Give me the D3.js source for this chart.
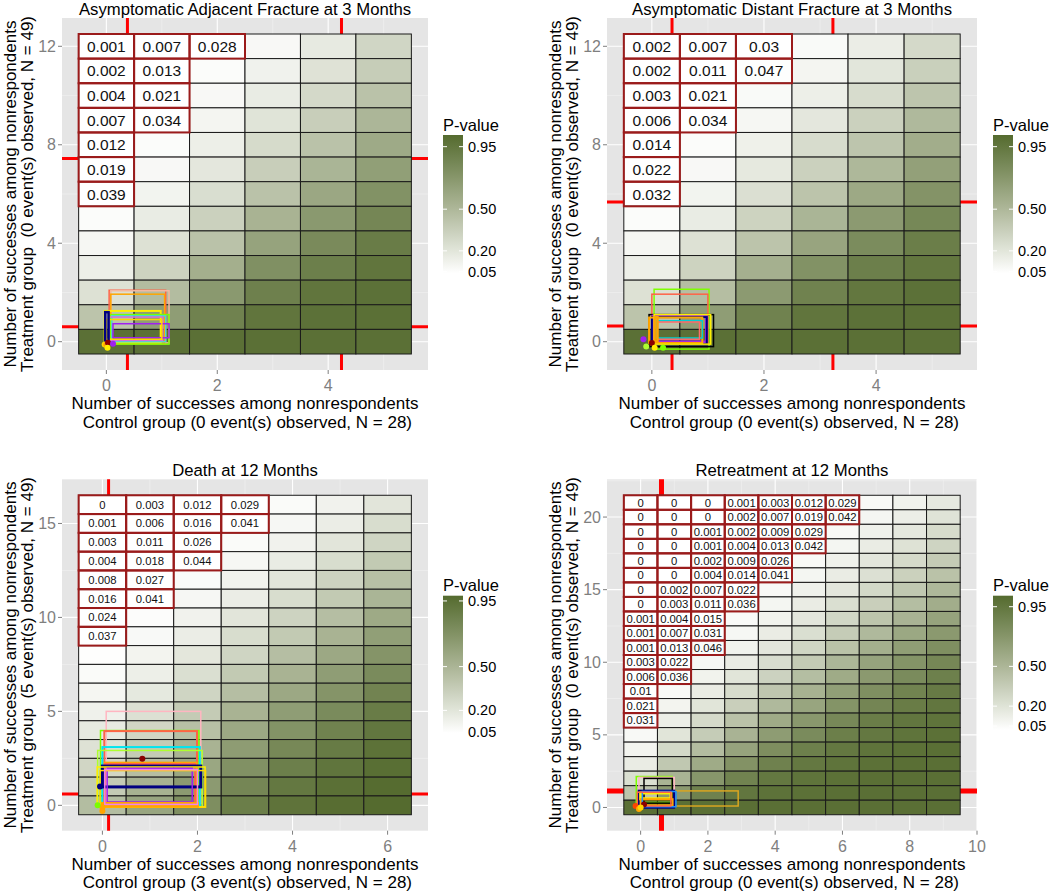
<!DOCTYPE html>
<html><head><meta charset="utf-8">
<script src="https://cdn.jsdelivr.net/npm/d3@7"></script>
<style>body{margin:0;background:#fff}svg{display:block;font-family:"Liberation Sans",Arial,Helvetica,sans-serif}text{white-space:pre}</style>
</head><body><svg id="c" width="1050" height="893"></svg>
<script>
// ---------------- DATA ----------------
const titles = ["Asymptomatic Adjacent Fracture at 3 Months", "Asymptomatic Distant Fracture at 3 Months", "Death at 12 Months", "Retreatment at 12 Months"];
const xTitleLine1 = "Number of successes among nonrespondents";
const xTitleLine2 = [" Control group (0 event(s) observed, N = 28)", " Control group (0 event(s) observed, N = 28)", " Control group (3 event(s) observed, N = 28)", " Control group (0 event(s) observed, N = 28)"];
const yTitleLine1 = "Number of successes among nonrespondents";
const yTitleLine2 = ["Treatment group  (0 event(s) observed, N = 49)", "Treatment group  (0 event(s) observed, N = 49)", "Treatment group  (5 event(s) observed, N = 49)", "Treatment group  (0 event(s) observed, N = 49)"];
const legendTitle = "P-value";
const legendBreaks = [0.05, 0.20, 0.50, 0.95];
const legendLabels = ["0.05", "0.20", "0.50", "0.95"];

// p-value matrices, first row = top row (largest treatment count)
const p1Values = [
  [0.001, 0.007, 0.028, 0.08, 0.17, 0.30],
  [0.002, 0.013, 0.06, 0.12, 0.22, 0.36],
  [0.004, 0.021, 0.08, 0.16, 0.28, 0.43],
  [0.007, 0.034, 0.10, 0.21, 0.35, 0.51],
  [0.012, 0.06, 0.14, 0.27, 0.43, 0.59],
  [0.019, 0.08, 0.19, 0.35, 0.52, 0.67],
  [0.039, 0.11, 0.25, 0.43, 0.61, 0.76],
  [0.06, 0.16, 0.33, 0.53, 0.71, 0.84],
  [0.09, 0.23, 0.43, 0.64, 0.81, 0.91],
  [0.14, 0.32, 0.56, 0.77, 0.89, 0.96],
  [0.23, 0.47, 0.71, 0.88, 0.96, 0.99],
  [0.42, 0.68, 0.87, 0.96, 0.99, 1.0],
  [1, 1, 1, 1, 1, 1]
];
const p2Values = [
  [0.002, 0.007, 0.03, 0.07, 0.15, 0.28],
  [0.002, 0.011, 0.047, 0.10, 0.20, 0.34],
  [0.003, 0.021, 0.07, 0.14, 0.26, 0.41],
  [0.006, 0.034, 0.09, 0.19, 0.33, 0.49],
  [0.014, 0.06, 0.13, 0.26, 0.41, 0.57],
  [0.022, 0.08, 0.18, 0.33, 0.50, 0.66],
  [0.032, 0.11, 0.24, 0.42, 0.60, 0.75],
  [0.06, 0.16, 0.32, 0.52, 0.70, 0.83],
  [0.09, 0.23, 0.42, 0.63, 0.80, 0.90],
  [0.14, 0.32, 0.55, 0.76, 0.89, 0.95],
  [0.23, 0.46, 0.70, 0.87, 0.95, 0.99],
  [0.42, 0.68, 0.87, 0.96, 0.99, 1.0],
  [1, 1, 1, 1, 1, 1]
];
const p3Values = [
  [0, 0.003, 0.012, 0.029, 0.07, 0.12, 0.20],
  [0.001, 0.006, 0.016, 0.041, 0.09, 0.15, 0.25],
  [0.003, 0.011, 0.026, 0.07, 0.12, 0.20, 0.30],
  [0.004, 0.018, 0.044, 0.09, 0.16, 0.25, 0.37],
  [0.008, 0.027, 0.07, 0.12, 0.20, 0.31, 0.43],
  [0.016, 0.041, 0.09, 0.15, 0.25, 0.37, 0.50],
  [0.024, 0.06, 0.12, 0.20, 0.31, 0.44, 0.57],
  [0.037, 0.08, 0.15, 0.25, 0.37, 0.51, 0.64],
  [0.052, 0.11, 0.19, 0.30, 0.44, 0.58, 0.71],
  [0.07, 0.14, 0.24, 0.37, 0.51, 0.65, 0.77],
  [0.10, 0.18, 0.30, 0.44, 0.58, 0.71, 0.82],
  [0.13, 0.23, 0.36, 0.51, 0.65, 0.77, 0.87],
  [0.17, 0.29, 0.43, 0.58, 0.72, 0.83, 0.91],
  [0.22, 0.36, 0.51, 0.66, 0.79, 0.88, 0.94],
  [0.29, 0.44, 0.59, 0.73, 0.85, 0.92, 0.96],
  [0.36, 0.52, 0.67, 0.80, 0.90, 0.95, 0.98],
  [0.45, 0.60, 0.75, 0.86, 0.93, 0.97, 0.99]
];
const p4Values = [
  [0, 0, 0, 0.001, 0.003, 0.012, 0.029, 0.06, 0.10, 0.16],
  [0, 0, 0, 0.002, 0.007, 0.019, 0.042, 0.08, 0.13, 0.20],
  [0, 0, 0.001, 0.002, 0.009, 0.029, 0.06, 0.11, 0.17, 0.25],
  [0, 0, 0.001, 0.004, 0.013, 0.042, 0.08, 0.14, 0.21, 0.30],
  [0, 0, 0.002, 0.009, 0.026, 0.06, 0.11, 0.18, 0.26, 0.36],
  [0, 0, 0.004, 0.014, 0.041, 0.08, 0.14, 0.22, 0.32, 0.42],
  [0, 0.002, 0.007, 0.022, 0.06, 0.11, 0.18, 0.27, 0.38, 0.49],
  [0, 0.003, 0.011, 0.036, 0.08, 0.14, 0.23, 0.33, 0.45, 0.56],
  [0.001, 0.004, 0.015, 0.052, 0.10, 0.18, 0.28, 0.40, 0.52, 0.63],
  [0.001, 0.007, 0.031, 0.07, 0.14, 0.23, 0.35, 0.48, 0.60, 0.70],
  [0.001, 0.013, 0.046, 0.10, 0.18, 0.29, 0.42, 0.55, 0.67, 0.77],
  [0.003, 0.022, 0.07, 0.14, 0.24, 0.36, 0.50, 0.63, 0.74, 0.83],
  [0.006, 0.036, 0.10, 0.19, 0.31, 0.45, 0.58, 0.70, 0.80, 0.88],
  [0.01, 0.06, 0.14, 0.25, 0.39, 0.53, 0.66, 0.77, 0.86, 0.92],
  [0.021, 0.09, 0.19, 0.33, 0.48, 0.62, 0.74, 0.84, 0.91, 0.95],
  [0.031, 0.13, 0.26, 0.42, 0.58, 0.71, 0.82, 0.90, 0.95, 0.97],
  [0.06, 0.19, 0.35, 0.52, 0.68, 0.80, 0.89, 0.94, 0.97, 0.99],
  [0.09, 0.27, 0.46, 0.63, 0.78, 0.88, 0.94, 0.97, 0.99, 1],
  [0.14, 0.38, 0.58, 0.75, 0.87, 0.94, 0.97, 0.99, 1, 1],
  [0.23, 0.52, 0.72, 0.86, 0.94, 0.97, 0.99, 1, 1, 1],
  [0.40, 0.70, 0.87, 0.95, 0.98, 0.99, 1, 1, 1, 1],
  [1, 1, 1, 1, 1, 1, 1, 1, 1, 1]
];

const p1XTicks = [0, 2, 4], p1YTicks = [0, 4, 8, 12];
const p2XTicks = [0, 2, 4], p2YTicks = [0, 4, 8, 12];
const p3XTicks = [0, 2, 4, 6], p3YTicks = [0, 5, 10, 15];
const p4XTicks = [0, 2, 4, 6, 8, 10], p4YTicks = [0, 5, 10, 15, 20];

// reference lines (red)
const p1VLines = [0.38, 4.24], p1HLines = [7.44, 0.61];
const p2VLines = [0.36, 3.23], p2HLines = [5.67, 0.64];
const p3VLines = [0.13], p3HLines = [0.6];
const p4VLines = [0.62], p4HLines = [1.14];

// colour-bar value range (bottom, top)
const p1Legend = [0.0385, 1.034];
const p2Legend = [0.0385, 1.034];
const p3Legend = [0.045, 0.986];
const p4Legend = [0.02, 1.033];

// interval rectangles [x0, y0, x1, y1] and point estimates [x, y]
const p1Rects = [[0.05,-0.1,1.07,2.09],[0.08,-0.05,1.13,2.07],[0.08,-0.05,1.05,1.93],[-0.03,-0.04,0.98,1.25],[0.07,-0.1,1.13,1.1],[0.1,0.0,1.07,1.05],[0.05,0.05,1.02,1.0],[0.12,0.16,1.13,0.73],[0.0,0.1,1.0,0.9],[-0.02,0.0,0.04,1.2]];
const p1RectColors = ["#FF6347","#F4B8A0","#FFA500","#FFEF00","#7CFC00","#40E0D0","#DA70D6","#A020F0","#FFD700","#000080"];
const p1RectWidths = [1.5,1.5,1.5,2,1.5,1.5,1.5,1.5,1.5,2.5];
const p1Dots = [[-0.03,-0.11],[0.0,-0.12],[0.03,-0.04],[0.12,-0.08],[0.02,-0.25]];
const p1DotColors = ["#FFD700","#FFA500","#8B0000","#A020F0","#FFEF00"];

const p2Rects = [[0.04,-0.3,1.02,2.13],[0.0,-0.1,1.0,1.93],[-0.05,-0.2,1.1,1.1],[0.02,0.0,0.97,1.05],[0.0,-0.1,0.98,1.0],[-0.05,-0.05,0.9,0.98],[0.08,0.15,0.9,0.85],[0.04,-0.1,1.05,1.1],[0.1,0.1,0.85,0.8],[0.05,0.0,0.1,1.0]];
const p2RectColors = ["#7FFF00","#FF6347","#000000","#A020F0","#000080","#FFA500","#00CED1","#FFEF00","#FF6A6A","#FFA500"];
const p2RectWidths = [1.5,1.5,1.5,2.5,2,2,1.5,1.5,1.5,2.5];
const p2Dots = [[-0.15,0.1],[0.0,-0.05],[-0.1,-0.2],[0.05,-0.25],[0.2,-0.25]];
const p2DotColors = ["#A020F0","#8B0000","#ADFF2F","#FFEF00","#7FFF00"];

const p3Rects = [[0.08,0.1,2.07,5.0],[-0.04,-0.1,2.03,3.98],[0.04,0.0,1.99,3.95],[0.0,0.0,2.05,3.1],[-0.1,-0.1,2.1,2.92],[0.05,0.0,1.98,2.27],[0.05,0.05,1.95,2.2],[0.0,0.98,2.07,2.09],[-0.11,-0.08,2.16,2.04],[0.1,0.18,1.89,1.97],[-0.05,-0.1,2.17,1.85],[0.0,-0.05,2.0,0.1],[0.05,0.05,2.0,1.9]];
const p3RectColors = ["#FFB6C1","#7FFF00","#FF6347","#00E5EE","#ADFF2F","#FFA500","#FF6347","#000080","#FFEF00","#A020F0","#FFD700","#FFA500","#EE82EE"];
const p3RectWidths = [1.5,1.5,2,2,1.5,2,2,3,1.5,1.5,1.5,3,1.5];
const p3Dots = [[0.84,2.48],[0.0,-0.1],[-0.05,1.0],[-0.1,0.0],[0.0,-0.3]];
const p3DotColors = ["#8B0000","#FFA500","#000080","#7CFC00","#FFA500"];

const p4Rects = [[-0.13,0.34,0.94,2.13],[-0.05,0.1,1.0,2.07],[0.1,0.3,0.94,2.0],[0.0,0.1,2.9,1.14],[-0.05,0.0,0.99,1.14],[0.0,0.6,0.9,1.0],[0.0,0.15,0.95,0.57],[0.05,0.05,1.05,1.1],[-0.1,0.1,0.9,1.05]];
const p4RectColors = ["#7FFF00","#FFB6C1","#000000","#DAA520","#000080","#FFEF00","#FFA500","#1E90FF","#FF6347"];
const p4RectWidths = [1.5,1.5,1.5,1.5,2.5,3,2,1.5,1.5];
const p4Dots = [[-0.15,0.1],[-0.05,-0.1],[0.1,0.2],[0.0,0.0]];
const p4DotColors = ["#FF4500","#FFA500","#8B0000","#FFD700"];

// ---------------- LAYOUT ----------------
const panels = [
  {i:0, values:p1Values, xt:p1XTicks, yt:p1YTicks, vl:p1VLines, hl:p1HLines, lg:p1Legend, rects:p1Rects, rc:p1RectColors, rw:p1RectWidths, dots:p1Dots, dc:p1DotColors,
   box:[62,18,366,352], leg:{x:443, top:135, bot:273.3}, labSize:15.5, redW:3},
  {i:1, values:p2Values, xt:p2XTicks, yt:p2YTicks, vl:p2VLines, hl:p2HLines, lg:p2Legend, rects:p2Rects, rc:p2RectColors, rw:p2RectWidths, dots:p2Dots, dc:p2DotColors,
   box:[607,18,370,352], leg:{x:993, top:135, bot:273.3}, labSize:15.5, redW:3},
  {i:2, values:p3Values, xt:p3XTicks, yt:p3YTicks, vl:p3VLines, hl:p3HLines, lg:p3Legend, rects:p3Rects, rc:p3RectColors, rw:p3RectWidths, dots:p3Dots, dc:p3DotColors,
   box:[62,479.3,366,351.4], leg:{x:443, top:595.7, bot:733}, labSize:11.3, redW:3},
  {i:3, values:p4Values, xt:p4XTicks, yt:p4YTicks, vl:p4VLines, hl:p4HLines, lg:p4Legend, rects:p4Rects, rc:p4RectColors, rw:p4RectWidths, dots:p4Dots, dc:p4DotColors,
   box:[607,479.3,370,351.4], leg:{x:993, top:595.7, bot:730}, labSize:11.3, redW:5}
];

const svg = d3.select("#c");
const defs = svg.append("defs");
const olive = "#556B2F";
const tickGrey = "#7F7F7F";

function minorBreaks(ticks, dom) {
  const s = ticks[1] - ticks[0];
  const m = ticks.map(t => t + s / 2).concat([ticks[0] - s / 2]);
  return m.filter(v => v > dom[0] && v < dom[1]);
}

panels.forEach(P => {
  const [L, T, Wd, Ht] = P.box;
  const nrow = P.values.length, ncol = P.values[0].length;
  const ex = 0.05 * ncol, ey = 0.05 * nrow;
  const xd = [-0.5 - ex, ncol - 0.5 + ex], yd = [-0.5 - ey, nrow - 0.5 + ey];
  const x = d3.scaleLinear().domain(xd).range([L, L + Wd]);
  const y = d3.scaleLinear().domain(yd).range([T + Ht, T]);
  const color = d3.scaleLinear().domain(P.lg).range(["#ffffff", olive]).interpolate(d3.interpolateLab).clamp(true);
  const g = svg.append("g");

  // panel background + grid
  g.append("rect").attr("x", L).attr("y", T).attr("width", Wd).attr("height", Ht).attr("fill", "#E5E5E5");
  const grid = g.append("g");
  grid.selectAll(".vmin").data(minorBreaks(P.xt, xd)).join("line")
    .attr("x1", d => x(d)).attr("x2", d => x(d)).attr("y1", T).attr("y2", T + Ht).attr("stroke", "#F2F2F2").attr("stroke-width", 0.6);
  grid.selectAll(".hmin").data(minorBreaks(P.yt, yd)).join("line")
    .attr("y1", d => y(d)).attr("y2", d => y(d)).attr("x1", L).attr("x2", L + Wd).attr("stroke", "#F2F2F2").attr("stroke-width", 0.6);
  grid.selectAll(".vmaj").data(P.xt).join("line")
    .attr("x1", d => x(d)).attr("x2", d => x(d)).attr("y1", T).attr("y2", T + Ht).attr("stroke", "#fff").attr("stroke-width", 1.1);
  grid.selectAll(".hmaj").data(P.yt).join("line")
    .attr("y1", d => y(d)).attr("y2", d => y(d)).attr("x1", L).attr("x2", L + Wd).attr("stroke", "#fff").attr("stroke-width", 1.1);

  // red reference lines (under the tiles)
  g.selectAll(".vl").data(P.vl).join("line")
    .attr("x1", d => x(d)).attr("x2", d => x(d)).attr("y1", T).attr("y2", T + Ht).attr("stroke", "#FF0000").attr("stroke-width", P.redW);
  g.selectAll(".hl").data(P.hl).join("line")
    .attr("y1", d => y(d)).attr("y2", d => y(d)).attr("x1", L).attr("x2", L + Wd).attr("stroke", "#FF0000").attr("stroke-width", P.redW);

  // tiles
  const cells = [];
  P.values.forEach((row, i) => row.forEach((v, c) => cells.push({c: c, r: nrow - 1 - i, v: v})));
  const cw = d => x(d.c + 0.5) - x(d.c - 0.5);
  const chh = d => y(d.r - 0.5) - y(d.r + 0.5);
  g.append("g").selectAll("rect").data(cells).join("rect")
    .attr("x", d => x(d.c - 0.5)).attr("y", d => y(d.r + 0.5))
    .attr("width", cw).attr("height", chh)
    .attr("fill", d => color(d.v)).attr("stroke", "#1a1a1a").attr("stroke-width", 1);

  const sig = cells.filter(d => d.v < 0.05);
  g.append("g").selectAll("rect").data(sig).join("rect")
    .attr("x", d => x(d.c - 0.5)).attr("y", d => y(d.r + 0.5))
    .attr("width", cw).attr("height", chh)
    .attr("fill", "none").attr("stroke", "#9B1B1B").attr("stroke-width", 2);
  g.append("g").selectAll("text").data(sig).join("text")
    .attr("x", d => x(d.c)).attr("y", d => y(d.r))
    .attr("text-anchor", "middle").attr("dominant-baseline", "central")
    .attr("font-size", P.labSize).attr("fill", "#111").text(d => String(d.v));

  // interval rectangles + points
  g.append("g").selectAll("rect").data(P.rects).join("rect")
    .attr("x", d => x(d[0])).attr("y", d => y(d[3]))
    .attr("width", d => x(d[2]) - x(d[0])).attr("height", d => y(d[1]) - y(d[3]))
    .attr("fill", "none").attr("stroke", (d, k) => P.rc[k]).attr("stroke-width", (d, k) => P.rw[k]);
  g.append("g").selectAll("circle").data(P.dots).join("circle")
    .attr("cx", d => x(d[0])).attr("cy", d => y(d[1])).attr("r", 3)
    .attr("fill", (d, k) => P.dc[k]);

  // axes
  const ax = g.append("g");
  ax.selectAll(".xt").data(P.xt).join("line")
    .attr("x1", d => x(d)).attr("x2", d => x(d)).attr("y1", T + Ht).attr("y2", T + Ht + 4).attr("stroke", tickGrey);
  ax.selectAll(".xl").data(P.xt).join("text")
    .attr("x", d => x(d)).attr("y", T + Ht + 21).attr("text-anchor", "middle")
    .attr("font-size", 16).attr("fill", tickGrey).text(d => d);
  ax.selectAll(".yt").data(P.yt).join("line")
    .attr("y1", d => y(d)).attr("y2", d => y(d)).attr("x1", L - 4).attr("x2", L).attr("stroke", tickGrey);
  ax.selectAll(".yl").data(P.yt).join("text")
    .attr("x", L - 6).attr("y", d => y(d)).attr("text-anchor", "end").attr("dominant-baseline", "central")
    .attr("font-size", 16).attr("fill", tickGrey).text(d => d);

  // titles
  g.append("text").attr("x", L + Wd / 2).attr("y", T - 3).attr("text-anchor", "middle")
    .attr("font-size", 16.7).attr("fill", "#000").text(titles[P.i]);
  g.append("text").attr("x", L + Wd / 2).attr("y", T + Ht + 39.3).attr("text-anchor", "middle")
    .attr("font-size", 17).attr("fill", "#000").text(xTitleLine1);
  g.append("text").attr("x", L + Wd / 2).attr("y", T + Ht + 57.6).attr("text-anchor", "middle")
    .attr("font-size", 17).attr("fill", "#000").text(xTitleLine2[P.i]);
  g.append("text").attr("transform", `translate(${L - 46},${T + Ht / 2}) rotate(-90)`).attr("text-anchor", "middle")
    .attr("font-size", 17).attr("fill", "#000").text(yTitleLine1);
  g.append("text").attr("transform", `translate(${L - 29},${T + Ht / 2}) rotate(-90)`).attr("text-anchor", "middle")
    .attr("font-size", 17).attr("fill", "#000").text(yTitleLine2[P.i]);

  // legend
  const lg = P.leg, bw = 20;
  const ly = d3.scaleLinear().domain(P.lg).range([lg.bot, lg.top]);
  const gid = "grad" + P.i;
  const grad = defs.append("linearGradient").attr("id", gid).attr("x1", 0).attr("x2", 0).attr("y1", 1).attr("y2", 0);
  d3.range(0, 1.0001, 0.1).forEach(t => {
    const v = P.lg[0] + t * (P.lg[1] - P.lg[0]);
    grad.append("stop").attr("offset", t).attr("stop-color", color(v));
  });
  g.append("text").attr("x", lg.x).attr("y", lg.top - 4.5).attr("font-size", 16.5).attr("fill", "#000").text(legendTitle);
  g.append("rect").attr("x", lg.x).attr("y", lg.top).attr("width", bw).attr("height", lg.bot - lg.top).attr("fill", `url(#${gid})`);
  const lt = g.append("g");
  lt.selectAll(".l1").data(legendBreaks).join("line")
    .attr("x1", lg.x).attr("x2", lg.x + 4).attr("y1", d => ly(d)).attr("y2", d => ly(d)).attr("stroke", "#fff").attr("stroke-width", 1);
  lt.selectAll(".l2").data(legendBreaks).join("line")
    .attr("x1", lg.x + bw - 4).attr("x2", lg.x + bw).attr("y1", d => ly(d)).attr("y2", d => ly(d)).attr("stroke", "#fff").attr("stroke-width", 1);
  lt.selectAll("text").data(legendBreaks).join("text")
    .attr("x", lg.x + bw + 5).attr("y", d => ly(d)).attr("dominant-baseline", "central")
    .attr("font-size", 14.5).attr("fill", "#000").text((d, k) => legendLabels[k]);
});
</script></body></html>
